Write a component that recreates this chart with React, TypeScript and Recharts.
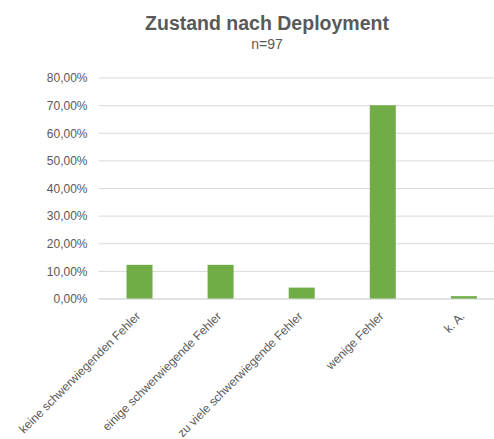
import React from "react";
import { BarChart, Bar, XAxis, YAxis, CartesianGrid } from "recharts";

const categories = [
  "keine schwerwiegenden Fehler",
  "einige schwerwiegende Fehler",
  "zu viele schwerwiegende Fehler",
  "wenige Fehler",
  "k. A.",
];
const shares = [0.1237, 0.1237, 0.0412, 0.701, 0.0103];
const yTicks = [0, 0.1, 0.2, 0.3, 0.4, 0.5, 0.6, 0.7, 0.8];
const title = "Zustand nach Deployment";
const subtitle = "n=97";

const data = categories.map((c, i) => ({ name: c, value: shares[i] }));

const fmt = (v: number) => (v * 100).toFixed(2).replace(".", ",") + "%";

const FONT = "'Liberation Sans', Arial, sans-serif";
const GRAY = "#595959";

const XTick = (props: any) => {
  const { x, y, payload } = props;
  return (
    <g transform={`translate(${x + 2},${y + 10})`}>
      <text
        x={0}
        y={0}
        textAnchor="end"
        transform="rotate(-45)"
        fill={GRAY}
        fontSize={12}
        fontFamily={FONT}
      >
        {payload.value}
      </text>
    </g>
  );
};

export default function App() {
  return (
    <div
      style={{
        position: "absolute",
        left: 0,
        top: 0,
        width: 494,
        height: 439,
        overflow: "hidden",
        background: "#fff",
      }}
    >
      <div
        style={{
          position: "absolute",
          left: 0,
          width: 534,
          top: 11,
          textAlign: "center",
          fontFamily: FONT,
          fontWeight: "bold",
          fontSize: 19.5,
          color: GRAY,
          lineHeight: "24px",
        }}
      >
        {title}
      </div>
      <div
        style={{
          position: "absolute",
          left: 0,
          width: 534,
          top: 35,
          textAlign: "center",
          fontFamily: FONT,
          fontSize: 14,
          color: GRAY,
          lineHeight: "18px",
        }}
      >
        {subtitle}
      </div>
      <div style={{ position: "absolute", left: 0, top: 0 }}>
        <BarChart
          width={504}
          height={439}
          data={data}
          margin={{ top: 78, right: 0, left: 8, bottom: 0 }}
        >
          <CartesianGrid vertical={false} stroke="#d9d9d9" />
          <XAxis
            dataKey="name"
            interval={0}
            height={140}
            tickLine={false}
            axisLine={{ stroke: "#d9d9d9" }}
            tick={<XTick />}
          />
          <YAxis
            width={90.5}
            domain={[0, 0.8]}
            ticks={yTicks}
            tickFormatter={fmt}
            axisLine={false}
            tickLine={false}
            tickSize={0}
            tickMargin={11}
            tick={{ fill: GRAY, fontSize: 12, fontFamily: FONT }}
          />
          <Bar dataKey="value" fill="#70AD47" barSize={26} isAnimationActive={false} />
        </BarChart>
      </div>
    </div>
  );
}
